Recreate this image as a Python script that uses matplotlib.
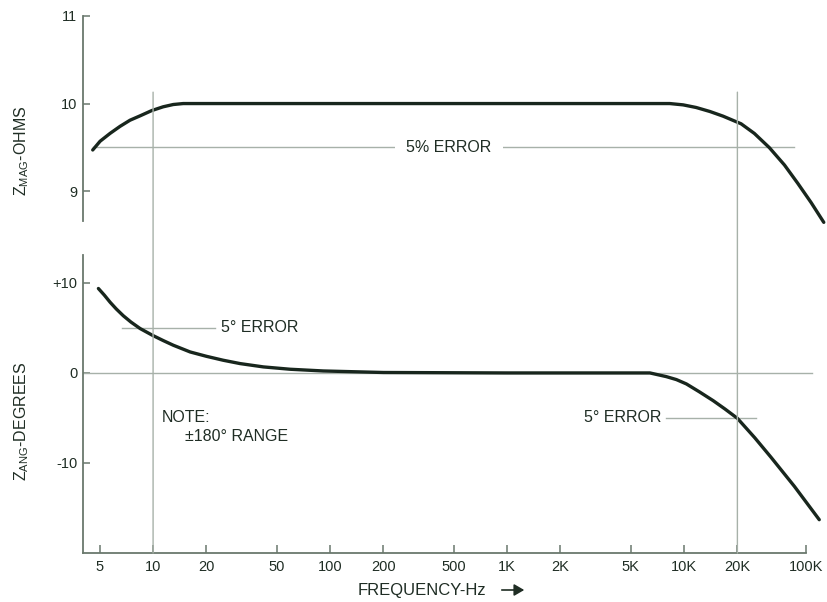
import numpy as np
import matplotlib
matplotlib.use("Agg")
import matplotlib.pyplot as plt
from matplotlib.patches import ConnectionPatch

plt.rcParams['font.family'] = ['Liberation Sans', 'DejaVu Sans']
plt.rcParams['mathtext.fontset'] = 'custom'
plt.rcParams['mathtext.rm'] = 'Liberation Sans'

# values
mag_freq = [4.56, 5.02, 5.72, 6.51, 7.41, 8.45, 9.83, 11.4, 13.0, 14.8, 100, 1000,
            8300, 9870, 11700, 14000, 16600, 21800, 29700, 42200, 59900, 81700, 111600, 150000]
mag_ohms = [9.47, 9.57, 9.66, 9.74, 9.81, 9.86, 9.92, 9.963, 9.989, 10.0, 10.0, 10.0,
            10.0, 9.985, 9.955, 9.909, 9.856, 9.769, 9.659, 9.496, 9.299, 9.09, 8.87, 8.644]

ang_freq = [4.91, 5.3, 5.72, 6.2, 6.79, 7.5, 8.45, 9.9, 11.4, 13.0, 16.2, 20.0, 24.9, 31.0,
            42.0, 59.5, 91.5, 200, 1000, 6410, 7940, 9050, 10300, 12200, 14600, 17000, 20000,
            30000, 43900, 75600, 135000]
ang_deg = [9.38, 8.65, 7.85, 7.1, 6.35, 5.65, 4.93, 4.19, 3.6, 3.08, 2.33, 1.85, 1.41, 1.04,
           0.67, 0.41, 0.22, 0.05, 0.0, 0.0, -0.41, -0.74, -1.22, -2.1, -3.08, -4.0, -5.04,
           -7.2, -9.38, -12.6, -16.3]

xticks = [5, 10, 20, 50, 100, 200, 500, 1000, 2000, 5000, 10000, 20000, 100000]
xlabels = ['5', '10', '20', '50', '100', '200', '500', '1K', '2K', '5K', '10K', '20K', '100K']

curve_c = '#18261d'
grid_c = '#a7b1a9'
spine_c = '#6a786d'
text_c = '#1f2d24'

# log axis, squeezed above 20K as drawn in the original
F0 = np.log10(2e4)
K = 0.5577


def fwd(f):
    g = np.log10(np.clip(f, 1e-3, None))
    return np.where(g <= F0, g, F0 + K * (g - F0))


def inv(g):
    g = np.asarray(g, dtype=float)
    return np.where(g <= F0, 10 ** g, 10 ** (F0 + (g - F0) / K))


fig = plt.figure(figsize=(8.27, 6.02), dpi=100)
ax1 = fig.add_axes([0.1004, 0.633, 0.8957, 0.3405])
ax2 = fig.add_axes([0.1004, 0.0814, 0.8957, 0.495])

xmin, xmax = 4.02, 150000
for ax in (ax1, ax2):
    ax.set_xscale('function', functions=(fwd, inv))
    ax.set_xlim(xmin, xmax)
    ax.spines['top'].set_visible(False)
    ax.spines['right'].set_visible(False)
    for s in ax.spines.values():
        s.set_color(spine_c)
        s.set_linewidth(1.3)
    ax.tick_params(direction='in', colors=spine_c, labelcolor=text_c, labelsize=10.5, width=1.1)
    ax.xaxis.set_minor_locator(matplotlib.ticker.NullLocator())
    ax.yaxis.set_minor_locator(matplotlib.ticker.NullLocator())

# top panel: magnitude
ax1.spines['bottom'].set_visible(False)
ax1.set_ylim(8.66, 11.0)
ax1.set_yticks([9, 10, 11])
ax1.set_yticklabels(['9', '10', '11'])
ax1.tick_params(axis='y', length=5, pad=4)
ax1.set_xticks([])
ax1.plot(mag_freq, mag_ohms, color=curve_c, lw=2.4, clip_on=False, solid_capstyle='round',
         solid_joinstyle='round', zorder=4)
ax1.plot([4.56, 75000], [9.5, 9.5], color=grid_c, lw=1.0, zorder=2)
ax1.text(470, 9.5, '5% ERROR', ha='center', va='center', fontsize=11.5, color=text_c, zorder=3,
         bbox=dict(boxstyle='square,pad=0.7', fc='white', ec='none'))

# bottom panel: angle
ax2.set_ylim(-20, 13.1)
ax2.set_yticks([10, 0, -10])
ax2.set_yticklabels(['+10', '0', '-10'])
ax2.tick_params(axis='y', length=5, pad=4)
ax2.set_xticks(xticks)
ax2.set_xticklabels(xlabels)
ax2.tick_params(axis='x', length=6, pad=5)
ax2.spines['bottom'].set_bounds(xmin, 100000)
ax2.plot(ang_freq, ang_deg, color=curve_c, lw=2.4, clip_on=False, solid_capstyle='round',
         solid_joinstyle='round', zorder=4)
ax2.plot([xmin, 115000], [0, 0], color=grid_c, lw=1.0, zorder=2)
ax2.plot([6.68, 22.4], [5, 5], color=grid_c, lw=1.0, zorder=2)
ax2.text(24.2, 5, '5° ERROR', ha='left', va='center', fontsize=11.5, color=text_c)
ax2.plot([7910, 31200], [-5, -5], color=grid_c, lw=1.0, zorder=2)
ax2.text(7420, -5, '5° ERROR', ha='right', va='center', fontsize=11.5, color=text_c)
ax2.text(11.2, -4.9, 'NOTE:', ha='left', va='center', fontsize=11.5, color=text_c)
ax2.text(15.2, -7.1, '±180° RANGE', ha='left', va='center', fontsize=11.5, color=text_c)

# vertical reference lines running through both panels
for xv in (10, 20000):
    con = ConnectionPatch(xyA=(xv, 10.13), coordsA=ax1.transData,
                          xyB=(xv, -20), coordsB=ax2.transData,
                          color=grid_c, lw=1.0, zorder=1)
    fig.add_artist(con)

# axis labels
fig.text(22 / 827, 0.75, r'Z$_{\mathrm{MAG}}$-OHMS', rotation=90, ha='center', va='center',
         fontsize=11.5, color=text_c)
fig.text(22 / 827, 0.30, r'Z$_{\mathrm{ANG}}$-DEGREES', rotation=90, ha='center', va='center',
         fontsize=11.5, color=text_c)
fig.text(358 / 827, 1 - 590 / 602, 'FREQUENCY-Hz', ha='left', va='center',
         fontsize=12, color=text_c)
fig.add_artist(matplotlib.patches.FancyArrowPatch(
    (499 / 827, 1 - 590 / 602), (527 / 827, 1 - 590 / 602), transform=fig.transFigure,
    arrowstyle='-|>,head_length=6,head_width=3.5', color=text_c, lw=1.2))

fig.savefig('out.png', dpi=100)
